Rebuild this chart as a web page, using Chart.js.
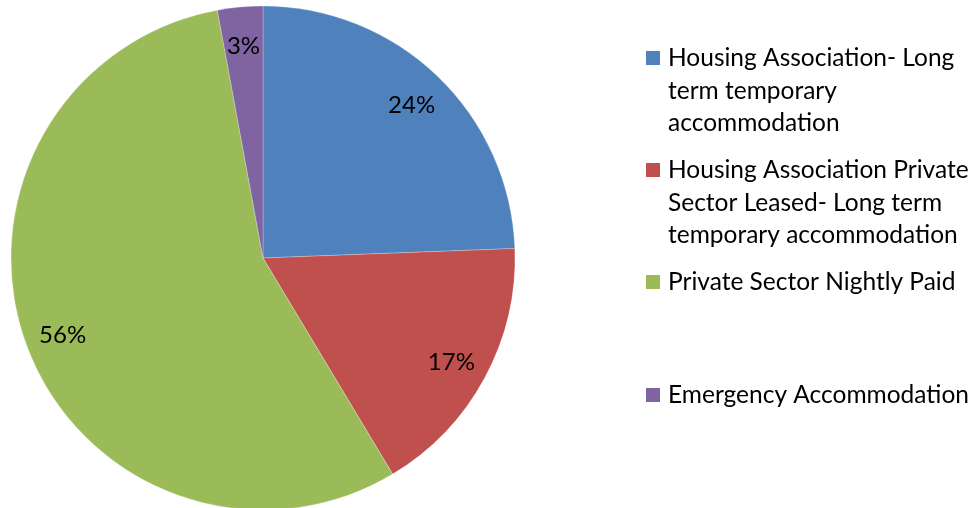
<!DOCTYPE html>
<html lang="en">
  <head>
    <meta charset="UTF-8" />
    <title>Temporary accommodation pie</title>
    <script src="https://cdn.jsdelivr.net/npm/chart.js@4"></script>
    <style>
      html, body { margin: 0; padding: 0; background: #fff; overflow: hidden; }
      #wrap { position: relative; width: 973px; height: 508px; }
    </style>
  </head>
  <body>
    <div id="wrap">
      <canvas id="myChart" width="973" height="508"></canvas>
    </div>
    <script>
      const categories = [
        "Housing Association- Long term temporary accommodation",
        "Housing Association Private Sector Leased- Long term temporary accommodation",
        "Private Sector Nightly Paid",
        "Emergency Accommodation",
      ];
      const shares = [24.4, 17.0, 55.7, 2.9];
      const colors = ["#4F81BD", "#C0504D", "#9BBB59", "#8064A2"];

      const FONT = "Lato, 'Open Sans', sans-serif";

      // percentage text inside each slice
      const sliceLabels = {
        id: "sliceLabels",
        afterDatasetsDraw(chart) {
          const ctx = chart.ctx;
          const meta = chart.getDatasetMeta(0);
          const total = shares.reduce((a, b) => a + b, 0);
          ctx.save();
          ctx.font = "24px " + FONT;
          ctx.fillStyle = "#000";
          ctx.textAlign = "center";
          ctx.textBaseline = "middle";
          meta.data.forEach((arc, i) => {
            const p = arc.getProps(["x", "y", "startAngle", "endAngle", "outerRadius"], true);
            const mid = (p.startAngle + p.endAngle) / 2;
            const r = p.outerRadius * 0.85;
            const txt = Math.round((shares[i] / total) * 100) + "%";
            ctx.fillText(txt, p.x + Math.cos(mid) * r, p.y + Math.sin(mid) * r + 2);
          });
          ctx.restore();
        },
      };

      // legend on the right, wrapped like the original
      const sideLegend = {
        id: "sideLegend",
        afterDraw(chart) {
          const ctx = chart.ctx;
          const tops = [66, 178, 290, 403]; // first-line baselines
          const lineH = 32.5;
          ctx.save();
          ctx.font = "24.5px " + FONT;
          ctx.textBaseline = "alphabetic";
          categories.forEach((name, i) => {
            const words = name.split(" ");
            const lines = [];
            let cur = "";
            words.forEach((w) => {
              const test = cur ? cur + " " + w : w;
              if (ctx.measureText(test).width > 304 && cur) {
                lines.push(cur);
                cur = w;
              } else cur = test;
            });
            lines.push(cur);
            ctx.fillStyle = colors[i];
            ctx.fillRect(646, tops[i] - 15, 14, 14);
            ctx.fillStyle = "#000";
            lines.forEach((ln, j) => ctx.fillText(ln, 668, tops[i] + j * lineH));
          });
          ctx.restore();
        },
      };

      new Chart(document.getElementById("myChart"), {
        type: "pie",
        data: {
          labels: categories,
          datasets: [
            {
              data: shares,
              backgroundColor: colors,
              borderColor: "rgba(255,255,255,0.35)",
              borderWidth: 0.7,
            },
          ],
        },
        options: {
          responsive: false,
          animation: false,
          radius: 252,
          layout: { padding: { left: 0, right: 447, top: 8, bottom: 0 } },
          plugins: {
            legend: { display: false },
            tooltip: { enabled: false },
          },
        },
        plugins: [sliceLabels, sideLegend],
      });
    </script>
  </body>
</html>
